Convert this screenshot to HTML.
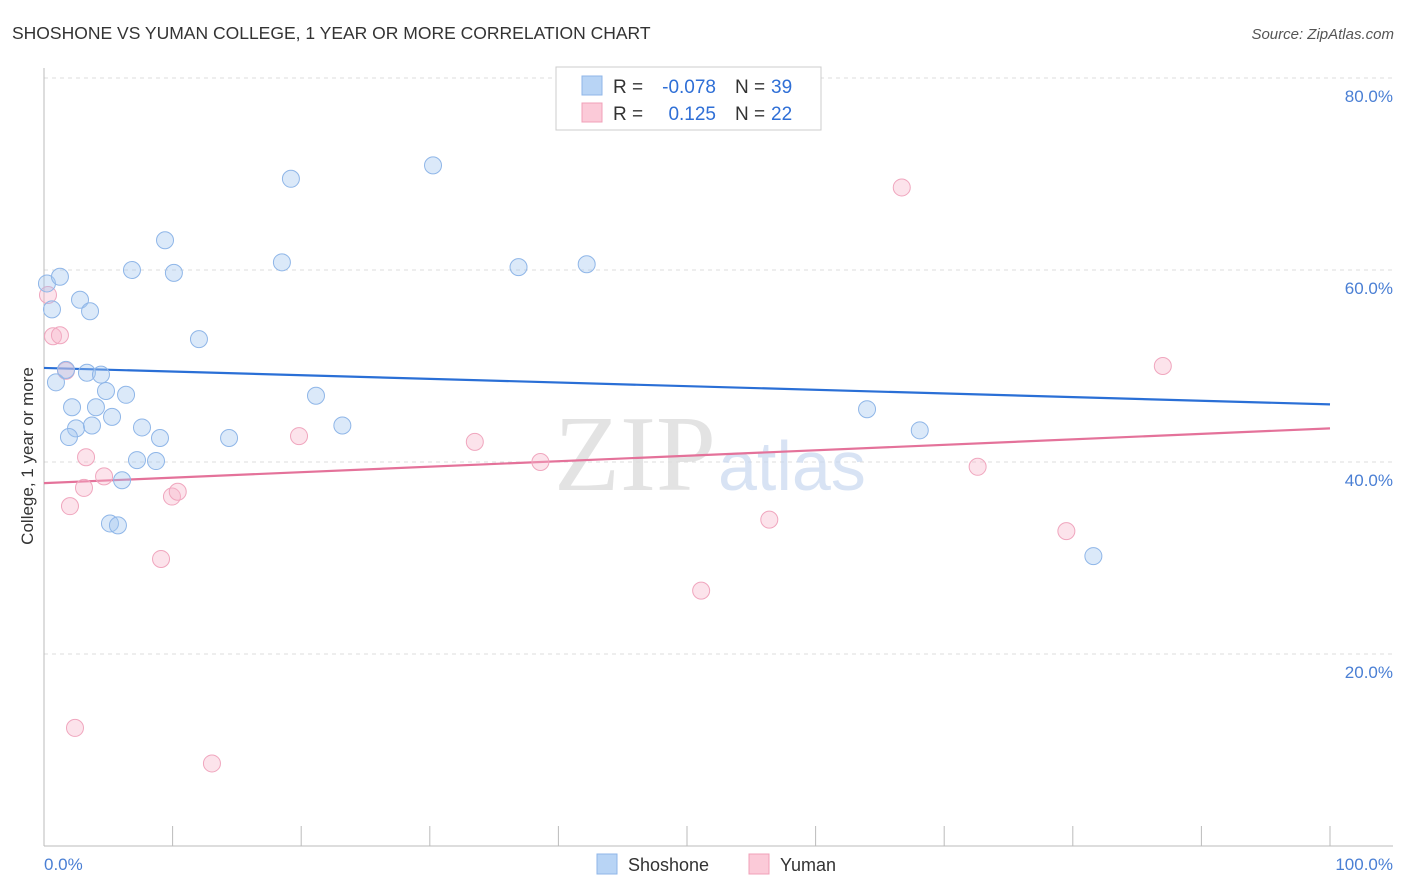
<!DOCTYPE html>
<html><head><meta charset="utf-8"><style>
body{margin:0;background:#fff;font-family:"Liberation Sans",sans-serif;}
svg{display:block}
</style></head><body>
<svg id="chart" width="1406" height="892" xmlns="http://www.w3.org/2000/svg">
<text x="12" y="39" font-size="17.5" fill="#333">SHOSHONE VS YUMAN COLLEGE, 1 YEAR OR MORE CORRELATION CHART</text>
<text x="1394" y="39" font-size="15" fill="#555" text-anchor="end" font-style="italic">Source: ZipAtlas.com</text>
<g id="grid"></g>
<text x="716" y="490" font-size="108" fill="#ddd" text-anchor="end" font-family="Liberation Serif" opacity="0.8">ZIP</text>
<text x="718" y="490" font-size="70" fill="#c8d8f0" opacity="0.7">atlas</text>
<g id="trends"></g>
<g id="pts"></g>
<text transform="translate(33,456) rotate(-90)" font-size="17" fill="#333" text-anchor="middle">College, 1 year or more</text>
<text x="44" y="870" font-size="17" fill="#4a7fd4">0.0%</text>
<text x="1393" y="870" font-size="17" fill="#4a7fd4" text-anchor="end">100.0%</text>
<g font-size="19">
<rect x="556" y="67" width="265" height="63" fill="#fff" stroke="#ccc"/>
<rect x="582" y="76" width="20" height="19" fill="#b8d4f5" stroke="#8fb6e8"/>
<rect x="582" y="103" width="20" height="19" fill="#fbcad8" stroke="#f0a0b8"/>
<text x="613" y="93" fill="#333">R =</text>
<text x="716" y="93" fill="#2f6fd6" text-anchor="end">-0.078</text>
<text x="735" y="93" fill="#333">N =</text>
<text x="771" y="93" fill="#2f6fd6">39</text>
<text x="613" y="120" fill="#333">R =</text>
<text x="716" y="120" fill="#2f6fd6" text-anchor="end">0.125</text>
<text x="735" y="120" fill="#333">N =</text>
<text x="771" y="120" fill="#2f6fd6">22</text>
</g>
<g>
<rect x="597" y="854" width="20" height="20" fill="#b8d4f5" stroke="#8fb6e8"/>
<text x="628" y="871" font-size="18" fill="#333">Shoshone</text>
<rect x="749" y="854" width="20" height="20" fill="#fbcad8" stroke="#f0a0b8"/>
<text x="780" y="871" font-size="18" fill="#333">Yuman</text>
</g>
</svg>
<script>
const yTicks=[20,40,60,80];
const shoX=[0.23,1.24,0.62,2.8,3.58,0.93,1.71,2.18,2.49,1.94,3.34,4.43,4.04,3.73,4.82,5.29,6.38,7.62,9.02,7.23,8.71,6.07,5.13,5.75,6.84,9.41,10.1,12.05,14.39,18.5,19.2,21.15,23.2,30.25,36.9,42.2,64.0,68.1,81.6];
const shoY=[58.6,59.3,55.9,56.9,55.7,48.3,49.6,45.7,43.5,42.6,49.3,49.1,45.7,43.8,47.4,44.7,47.0,43.6,42.5,40.2,40.1,38.1,33.6,33.4,60.0,63.1,59.7,52.8,42.5,60.8,69.5,46.9,43.8,70.9,60.3,60.6,45.5,43.3,30.2];
const yumX=[0.31,0.7,1.24,1.71,3.27,3.11,2.02,4.67,9.95,10.4,9.1,2.41,13.06,19.83,33.5,38.6,51.1,56.4,66.7,72.6,79.5,87.0];
const yumY=[57.4,53.1,53.2,49.5,40.5,37.3,35.4,38.5,36.4,36.9,29.9,12.3,8.6,42.7,42.1,40.0,26.6,34.0,68.6,39.5,32.8,50.0];
const shoTrend=[49.8,46.0];
const yumTrend=[37.8,43.5];
const NS="http://www.w3.org/2000/svg";
const X=v=>44+v*12.86, Y=v=>846-v*9.6;
function mk(t,a,p){const e=document.createElementNS(NS,t);for(const k in a)e.setAttribute(k,a[k]);p.appendChild(e);return e;}
const g=document.getElementById('grid');
yTicks.forEach(t=>{
 const l=mk('line',{x1:44,x2:1393,y1:Y(t),y2:Y(t),stroke:'#ddd','stroke-dasharray':'4,4'},g);
 
 
 const tx=mk('text',{x:1393,y:Y(t)+24,'font-size':17,fill:'#4a7fd4','text-anchor':'end'},g);
 tx.textContent=t.toFixed(1)+'%';
 
 
});
mk('line',{x1:44,x2:44,y1:68,y2:846,stroke:'#bbb'},g);
mk('line',{x1:44,x2:1393,y1:846,y2:846,stroke:'#bbb'},g);
for(let i=0;i<=10;i++){const l=mk('line',{x1:X(i*10),x2:X(i*10),y1:826,y2:846,stroke:'#bbb'},g);
 
 }
const tr=document.getElementById('trends');
const t1=mk('line',{x1:X(0),y1:Y(shoTrend[0]),x2:X(100),y2:Y(shoTrend[1]),stroke:'#2a6fd6','stroke-width':2.2},tr);


const t2=mk('line',{x1:X(0),y1:Y(yumTrend[0]),x2:X(100),y2:Y(yumTrend[1]),stroke:'#e4729a','stroke-width':2.2},tr);


const p=document.getElementById('pts');
yumX.forEach((x,i)=>{const c=mk('circle',{cx:X(x),cy:Y(yumY[i]),r:8.5,fill:'rgba(248,182,202,0.38)',stroke:'#f0a6be','stroke-width':1},p);
 
 });
shoX.forEach((x,i)=>{const c=mk('circle',{cx:X(x),cy:Y(shoY[i]),r:8.5,fill:'rgba(160,196,240,0.38)',stroke:'#8fb6e8','stroke-width':1},p);
 
 });
</script>
</body></html>
